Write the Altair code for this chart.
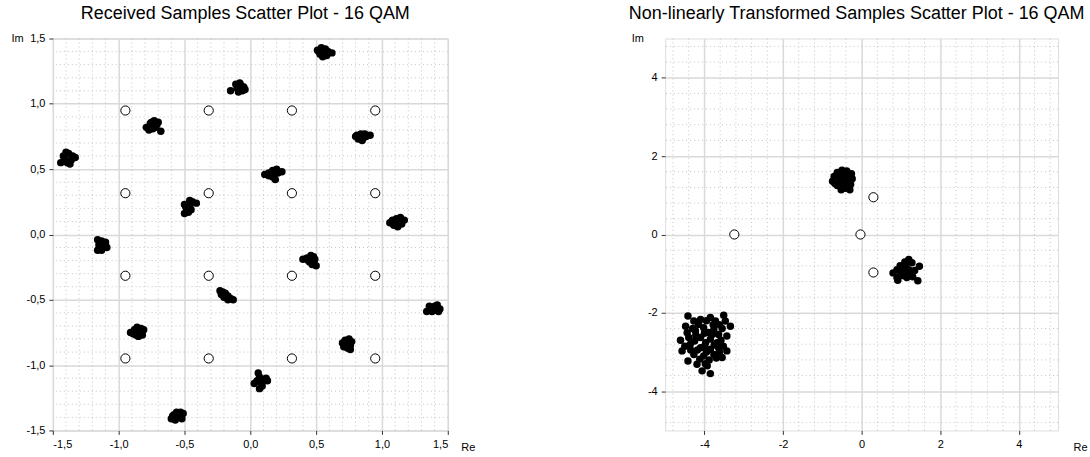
import altair as alt
import pandas as pd

# ---------------- Left panel: received samples (16 clusters) ----------------
received_clusters = [
    [(0.51, 1.41), (0.54, 1.43), (0.57, 1.42), (0.53, 1.38), (0.56, 1.39), (0.59, 1.40), (0.55, 1.36), (0.58, 1.37), (0.62, 1.39), (0.52, 1.40)],
    [(-0.15, 1.10), (-0.10, 1.12), (-0.07, 1.14), (-0.05, 1.13), (-0.09, 1.09), (-0.06, 1.10), (-0.11, 1.15), (-0.08, 1.16), (-0.04, 1.11), (-0.08, 1.12)],
    [(-0.79, 0.82), (-0.76, 0.85), (-0.73, 0.87), (-0.71, 0.84), (-0.74, 0.81), (-0.77, 0.80), (-0.72, 0.82), (-0.68, 0.79), (-0.75, 0.86), (-0.70, 0.86)],
    [(-1.44, 0.55), (-1.41, 0.58), (-1.38, 0.62), (-1.36, 0.57), (-1.39, 0.55), (-1.42, 0.60), (-1.33, 0.59), (-1.37, 0.54), (-1.40, 0.63), (-1.35, 0.60)],
    [(0.80, 0.75), (0.82, 0.73), (0.85, 0.72), (0.88, 0.75), (0.91, 0.76), (0.84, 0.77), (0.87, 0.77), (0.81, 0.76), (0.86, 0.74), (0.83, 0.74)],
    [(0.11, 0.46), (0.14, 0.45), (0.17, 0.44), (0.19, 0.42), (0.21, 0.47), (0.24, 0.48), (0.20, 0.50), (0.17, 0.49), (0.14, 0.47), (0.18, 0.46)],
    [(-0.50, 0.16), (-0.48, 0.19), (-0.46, 0.22), (-0.44, 0.25), (-0.41, 0.24), (-0.49, 0.21), (-0.47, 0.17), (-0.45, 0.19), (-0.46, 0.26), (-0.50, 0.23)],
    [(1.06, 0.09), (1.09, 0.07), (1.12, 0.06), (1.15, 0.08), (1.17, 0.11), (1.14, 0.13), (1.11, 0.12), (1.08, 0.11), (1.12, 0.09), (1.10, 0.08)],
    [(-1.16, -0.04), (-1.13, -0.05), (-1.10, -0.06), (-1.15, -0.08), (-1.12, -0.09), (-1.09, -0.10), (-1.16, -0.12), (-1.13, -0.12), (-1.10, -0.08), (-1.14, -0.10)],
    [(0.40, -0.19), (0.43, -0.18), (0.46, -0.16), (0.48, -0.17), (0.45, -0.21), (0.48, -0.21), (0.50, -0.24), (0.47, -0.23), (0.44, -0.20), (0.49, -0.19)],
    [(-0.23, -0.43), (-0.21, -0.44), (-0.22, -0.46), (-0.19, -0.45), (-0.17, -0.47), (-0.20, -0.48), (-0.15, -0.49), (-0.13, -0.50), (-0.17, -0.50), (-0.19, -0.47)],
    [(1.34, -0.59), (1.37, -0.57), (1.40, -0.55), (1.42, -0.54), (1.44, -0.57), (1.41, -0.58), (1.38, -0.59), (1.36, -0.55), (1.43, -0.59), (1.39, -0.57)],
    [(-0.91, -0.75), (-0.88, -0.73), (-0.86, -0.71), (-0.83, -0.72), (-0.81, -0.73), (-0.84, -0.75), (-0.87, -0.77), (-0.85, -0.78), (-0.89, -0.76), (-0.82, -0.77)],
    [(0.70, -0.83), (0.72, -0.81), (0.75, -0.80), (0.77, -0.82), (0.76, -0.85), (0.73, -0.84), (0.71, -0.86), (0.74, -0.87), (0.76, -0.88), (0.73, -0.86)],
    [(0.06, -1.06), (0.07, -1.09), (0.05, -1.12), (0.03, -1.14), (0.08, -1.13), (0.10, -1.11), (0.12, -1.10), (0.13, -1.12), (0.09, -1.16), (0.07, -1.18)],
    [(-0.60, -1.41), (-0.58, -1.38), (-0.56, -1.36), (-0.53, -1.36), (-0.51, -1.37), (-0.54, -1.40), (-0.57, -1.42), (-0.52, -1.41), (-0.59, -1.39), (-0.55, -1.39)],
]

ideal_levels = [-0.949, -0.316, 0.316, 0.949]

left_ticks = [-1.5, -1.0, -0.5, 0.0, 0.5, 1.0, 1.5]
left_minor = [-1.4, -1.3, -1.2, -1.1, -0.9, -0.8, -0.7, -0.6, -0.4, -0.3, -0.2, -0.1,
              0.1, 0.2, 0.3, 0.4, 0.6, 0.7, 0.8, 0.9, 1.1, 1.2, 1.3, 1.4]

# ---------------- Right panel: non-linearly transformed samples ----------------
transformed_clusters = [
    [(-0.74, 1.36), (-0.70, 1.48), (-0.62, 1.58), (-0.50, 1.64), (-0.38, 1.62), (-0.26, 1.55), (-0.24, 1.42),
     (-0.28, 1.28), (-0.30, 1.14), (-0.42, 1.18), (-0.52, 1.14), (-0.62, 1.25), (-0.55, 1.40), (-0.45, 1.50),
     (-0.40, 1.35), (-0.50, 1.28), (-0.35, 1.45), (-0.60, 1.50), (-0.68, 1.30), (-0.32, 1.22)],
    [(1.20, -0.64), (1.10, -0.70), (1.28, -0.72), (1.47, -0.81), (0.98, -0.80), (0.90, -0.90), (0.80, -0.98),
     (0.90, -1.10), (0.92, -1.17), (1.05, -1.05), (1.15, -1.10), (1.30, -1.08), (1.43, -1.18), (1.35, -0.92),
     (1.20, -0.90), (1.05, -0.88), (1.12, -0.80), (1.25, -0.98), (1.00, -0.98), (1.18, -1.00)],
    [(-4.42, -2.08), (-3.51, -2.06), (-3.34, -2.34), (-3.47, -2.21), (-4.61, -2.70), (-4.57, -2.97),
     (-4.42, -3.23), (-4.19, -3.31), (-4.06, -3.48), (-3.85, -3.55), (-3.93, -3.35), (-3.43, -2.97),
     (-3.55, -3.14), (-3.43, -2.59), (-3.85, -2.12), (-4.10, -2.17), (-4.48, -2.34), (-4.44, -2.51),
     (-4.23, -2.46), (-4.02, -2.38), (-3.76, -2.42), (-3.64, -2.55), (-4.10, -2.63), (-3.85, -2.67),
     (-4.36, -2.80), (-4.10, -2.89), (-3.85, -2.93), (-3.64, -2.89), (-4.27, -3.06), (-4.02, -3.10),
     (-3.76, -3.06), (-3.97, -2.76), (-3.68, -2.76), (-4.27, -2.21), (-3.72, -2.21), (-4.40, -2.63),
     (-3.95, -2.20), (-3.62, -2.30), (-3.55, -2.40), (-4.15, -2.30), (-3.90, -2.50), (-4.00, -2.52),
     (-3.80, -2.55), (-3.58, -2.70), (-4.25, -2.72), (-4.00, -2.85), (-3.75, -2.82), (-3.95, -3.00),
     (-4.18, -2.95), (-3.62, -3.00), (-4.35, -2.95), (-4.12, -3.18), (-3.88, -3.20), (-3.70, -3.15),
     (-4.50, -2.85), (-4.30, -2.40), (-3.52, -2.85), (-3.98, -3.30), (-3.78, -2.30), (-4.22, -2.58)],
]

transformed_ideal_x = [0.30, -3.24, -0.03, 0.30]
transformed_ideal_y = [0.95, 0.00, 0.00, -0.97]

right_ticks = [-4, -2, 0, 2, 4]
right_minor = [-4.8, -4.4, -3.6, -3.2, -2.8, -2.4, -1.6, -1.2, -0.8, -0.4,
               0.4, 0.8, 1.2, 1.6, 2.4, 2.8, 3.2, 3.6, 4.4, 4.8]

title_left = "Received Samples Scatter Plot - 16 QAM"
title_right = "Non-linearly Transformed Samples Scatter Plot - 16 QAM"

# ---------------- Build tables ----------------
rec_df = pd.DataFrame([p for c in received_clusters for p in c], columns=["x", "y"])
ideal_df = pd.DataFrame([(a, b) for b in ideal_levels for a in ideal_levels], columns=["x", "y"])
tr_df = pd.DataFrame([p for c in transformed_clusters for p in c], columns=["x", "y"])
tr_ideal_df = pd.DataFrame({"x": transformed_ideal_x, "y": transformed_ideal_y})

FONT = "Liberation Sans"
AXIS_DARK = "#333333"
GRID = "#d9d9d9"
MINOR = "#c4c4c4"

left_expr = "(datum.value < 0 ? '-' : '') + replace(format(abs(datum.value), '.1f'), '.', ',')"
right_expr = "(datum.value < 0 ? '-' : '') + format(abs(datum.value), 'd')"


def panel(points, ideal, minor, dom, ticks, expr, title, w, h, im_x, re_x):
    xs = alt.Scale(domain=dom, nice=False, zero=False)
    ys = alt.Scale(domain=dom, nice=False, zero=False)
    common = dict(values=ticks, labelExpr=expr, titleAngle=0, titleBaseline="middle",
                  titleAlign="left", titleFontWeight="normal", titleFontSize=11, titleFont=FONT,
                  titleColor="black", labelFont=FONT, labelFontSize=11, labelColor="black",
                  grid=True, gridColor=GRID, gridWidth=1.5, tickSize=4, tickColor=AXIS_DARK,
                  domain=False)
    xaxis = alt.Axis(title="Re", titleX=w + re_x, titleY=17, labelPadding=4, **common)
    yaxis = alt.Axis(title="Im", titleX=im_x, titleY=0, labelPadding=4, **common)
    minor_df = pd.DataFrame({"v": minor})
    vrules = alt.Chart(minor_df).mark_rule(color=MINOR, strokeWidth=1, strokeDash=[1, 3]).encode(
        x=alt.X("v:Q", scale=xs, axis=xaxis))
    hrules = alt.Chart(minor_df).mark_rule(color=MINOR, strokeWidth=1, strokeDash=[1, 3]).encode(
        y=alt.Y("v:Q", scale=ys, axis=yaxis))
    dots = alt.Chart(points).mark_circle(color="black", opacity=1, size=56).encode(
        x=alt.X("x:Q", scale=xs, axis=xaxis), y=alt.Y("y:Q", scale=ys, axis=yaxis))
    rings = alt.Chart(ideal).mark_point(shape="circle", filled=True, fill="white", stroke="black",
                                        strokeWidth=1, opacity=1, size=85).encode(
        x=alt.X("x:Q", scale=xs, axis=xaxis), y=alt.Y("y:Q", scale=ys, axis=yaxis))
    return alt.layer(vrules, hrules, dots, rings).properties(
        width=w, height=h,
        title=alt.TitleParams(title, fontSize=18, font=FONT, fontWeight="normal",
                              color="black", anchor="middle", offset=10, dx=-5))


left = panel(rec_df, ideal_df, left_minor, [-1.5, 1.5], left_ticks, left_expr,
             title_left, 396, 393, -42, 13)
right = panel(tr_df, tr_ideal_df, right_minor, [-5, 5], right_ticks, right_expr,
              title_right, 394, 393, -34, 15)

chart = alt.hconcat(left, right, spacing=218, bounds="flush").properties(
    padding={"left": 10, "top": 3, "right": 2, "bottom": 2}
).configure_view(stroke=AXIS_DARK, strokeWidth=1).configure_axis(
    labelFont=FONT, labelFontSize=11, labelColor="black",
    tickColor=AXIS_DARK, domainColor=AXIS_DARK
).configure(background="white")

chart.save("out.html", embed_options={"renderer": "svg", "actions": False})
